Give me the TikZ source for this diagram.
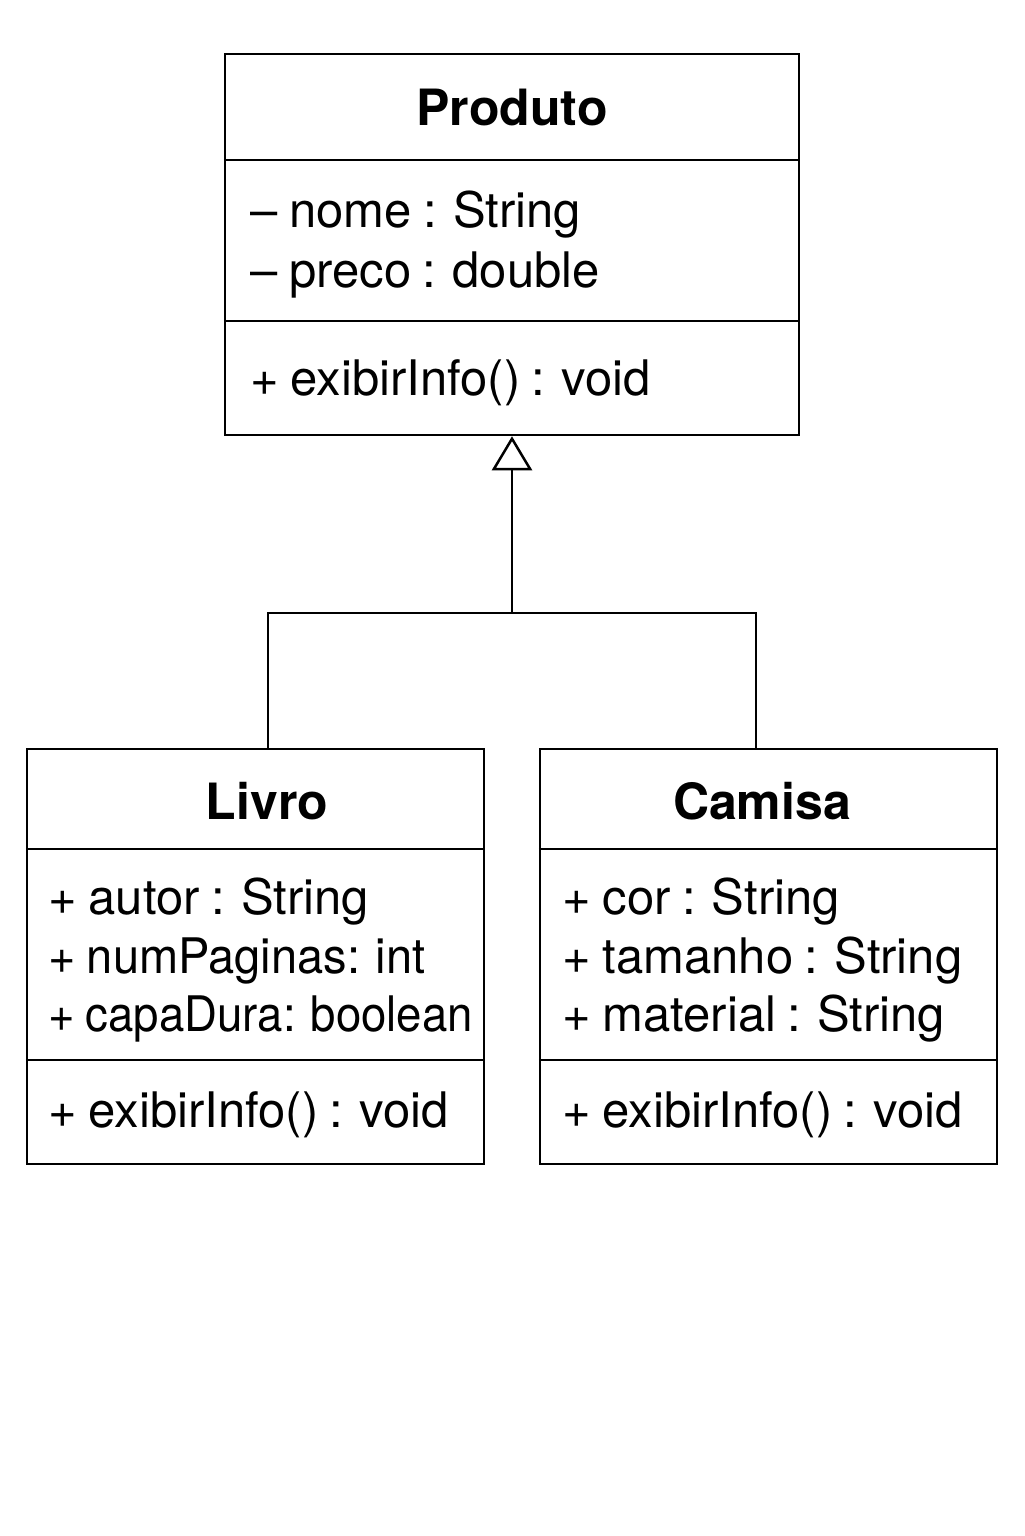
\documentclass[tikz,border=0pt]{standalone}
\usepackage{graphicx}
\usepackage{fontspec}
\setmainfont{TeX Gyre Heros}[WordSpace=0.85]
\usetikzlibrary{arrows.meta}
\begin{document}
\begin{tikzpicture}[x=0.5pt,y=-0.5pt,
  line/.style={draw=black,line width=1.25pt},
  classbox/.style={line,rectangle,inner sep=0pt,fill=white},
  title/.style={font=\fontsize{25pt}{30pt}\selectfont\bfseries,inner sep=0pt},
  member/.style={font=\fontsize{24.5pt}{28pt}\selectfont,inner sep=0pt,anchor=mid west},
  gen/.style={line,-{Triangle[open,length=17pt,width=20pt,line width=1.25pt]}}]
\useasboundingbox[fill=white] (0,0) rectangle (1024,1536);
% Produto
\node[classbox,minimum width=287pt,minimum height=190.5pt] (produto) at (512,244.5) {};
\draw[line] (produto.west |- 0,160) -- (produto.east |- 0,160);
\draw[line] (produto.west |- 0,321) -- (produto.east |- 0,321);
\node[title] (ptitle) at (512,108) {Produto};
\node[member] (pa1) at (250,222) {– nome : String};
\node[member] (pa2) at (250,282) {– preco : double};
\node[member] (pm1) at (250,390) {+ exibirInfo() : void};
% Livro
\node[classbox,minimum width=228.5pt,minimum height=207.5pt] (livro) at (255.5,956.5) {};
\draw[line] (livro.west |- 0,849) -- (livro.east |- 0,849);
\draw[line] (livro.west |- 0,1060) -- (livro.east |- 0,1060);
\node[title] (ltitle) at (267,801) {Livro};
\node[member] (la1) at (48,909) {+ autor : String};
\node[member] (la2) at (48,968) {\scalebox{0.96}[1]{+ numPaginas: int}};
\node[member] (la3) at (48,1026) {\scalebox{0.93}[1]{+ capaDura: boolean}};
\node[member] (lm1) at (48,1122) {+ exibirInfo() : void};
% Camisa
\node[classbox,minimum width=228.5pt,minimum height=207.5pt] (camisa) at (768.5,956.5) {};
\draw[line] (camisa.west |- 0,849) -- (camisa.east |- 0,849);
\draw[line] (camisa.west |- 0,1060) -- (camisa.east |- 0,1060);
\node[title] (ctitle) at (762,801) {Camisa};
\node[member] (ca1) at (562,909) {+ cor : String};
\node[member] (ca2) at (562,968) {+ tamanho : String};
\node[member] (ca3) at (562,1026) {+ material : String};
\node[member] (cm1) at (562,1122) {+ exibirInfo() : void};
% Generalization
\coordinate (lt) at (268,749);
\coordinate (ct) at (756,749);
\coordinate (j) at (512,613);
\draw[line] (lt) |- (j) -| (ct);
\draw[gen] (j) -- (produto.south);
\end{tikzpicture}
\end{document}
